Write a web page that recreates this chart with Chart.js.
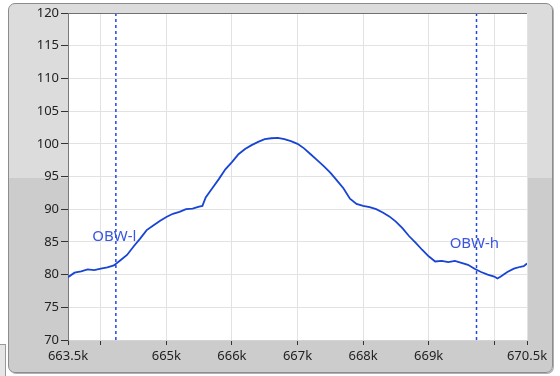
<!DOCTYPE html>
<html>
<head>
<meta charset="utf-8">
<script src="https://cdn.jsdelivr.net/npm/chart.js@4.4.1/dist/chart.umd.min.js"></script>
<style>
  html, body { margin: 0; padding: 0; background: #fff; }
  #wrap { position: relative; width: 560px; height: 376px; overflow: hidden; }
  #frame {
    position: absolute; left: 8px; top: 3px; width: 543px; height: 368px;
    border: 1px solid #8c8c8c; border-radius: 7px;
    box-shadow: 1px 1px 0 #b0b0b0;
    background: linear-gradient(to bottom, #dcdcdc 0, #dcdcdc 174px, #cccccc 174px, #cccccc 100%);
  }
  #tab {
    position: absolute; left: -2px; top: 344px; width: 6px; height: 40px;
    border: 1px solid #9a9a9a; background: #e6e6e6;
  }
  canvas { position: absolute; left: 0; top: 0; }
</style>
</head>
<body>
<div id="wrap">
  <div id="frame"></div>
  <div id="tab"></div>
  <canvas id="chart" width="560" height="376"></canvas>
</div>
<script>
// Spectrum trace (frequency in kHz, level)
const freqs = [
  663.5, 663.6, 663.7, 663.8, 663.9, 664.0, 664.1, 664.2, 664.3, 664.4,
  664.5, 664.6, 664.7, 664.8, 664.9, 665.0, 665.1, 665.2, 665.3, 665.4,
  665.5, 665.55, 665.6, 665.7, 665.8, 665.9, 666.0, 666.1, 666.2, 666.3,
  666.4, 666.5, 666.6, 666.7, 666.8, 666.9, 667.0, 667.1, 667.2, 667.3,
  667.4, 667.5, 667.6, 667.7, 667.8, 667.9, 668.0, 668.1, 668.2, 668.3,
  668.4, 668.5, 668.6, 668.7, 668.8, 668.9, 669.0, 669.1, 669.2, 669.3,
  669.4, 669.5, 669.6, 669.7, 669.8, 669.9, 670.0, 670.05, 670.1, 670.2,
  670.3, 670.4, 670.45, 670.5
];
const levels = [
  79.6, 80.3, 80.5, 80.8, 80.7, 80.9, 81.1, 81.4, 82.2, 83.0,
  84.3, 85.5, 86.8, 87.5, 88.2, 88.8, 89.3, 89.6, 90.0, 90.1,
  90.4, 90.5, 91.8, 93.2, 94.6, 96.1, 97.2, 98.4, 99.2, 99.8,
  100.3, 100.7, 100.85, 100.9, 100.7, 100.4, 100.0, 99.3, 98.4, 97.5,
  96.6, 95.6, 94.4, 93.2, 91.6, 90.8, 90.5, 90.3, 90.0, 89.5,
  88.9, 88.1, 87.1, 85.9, 84.9, 83.8, 82.8, 82.0, 82.1, 81.9,
  82.1, 81.8, 81.5, 80.9, 80.4, 80.0, 79.7, 79.4, 79.7, 80.4,
  80.9, 81.2, 81.3, 81.7
];

// Occupied bandwidth markers
const obwNames = ['OBW-l', 'OBW-h'];
const obwFreqs = [664.23, 669.73];
const obwLabelX = [663.87, 669.32];
const obwLabelY = [85.8, 84.7];

// Axes
const xMin = 663.5, xMax = 670.5;
const xTicks = [663.5, 664, 665, 666, 667, 668, 669, 670, 670.5];
const xHidden = [664, 670];
const yMin = 70, yMax = 120, yStep = 5;

const blue = '#1844d4';

const obwSets = obwFreqs.map(f => ({
  data: [{ x: f, y: yMin }, { x: f, y: yMax }],
  borderColor: '#2348dc',
  borderWidth: 1.5,
  borderDash: [3, 3],
  pointRadius: 0,
  fill: false
}));

const plotDeco = {
  id: 'plotDeco',
  beforeDraw(chart) {
    const { ctx, chartArea: a } = chart;
    ctx.save();
    ctx.fillStyle = '#ffffff';
    ctx.fillRect(a.left, a.top, a.right - a.left, a.bottom - a.top);
    ctx.restore();
  },
  afterDraw(chart) {
    const { ctx, chartArea: a, scales } = chart;
    ctx.save();
    ctx.strokeStyle = '#707070';
    ctx.lineWidth = 1;
    ctx.beginPath();
    ctx.moveTo(a.left, a.top + 0.5);
    ctx.lineTo(a.right, a.top + 0.5);
    ctx.stroke();
    ctx.font = '15px "Noto Sans", sans-serif';
    ctx.fillStyle = '#3a55e0';
    ctx.textBaseline = 'middle';
    ctx.textAlign = 'left';
    obwNames.forEach((n, i) => {
      ctx.fillText(n, scales.x.getPixelForValue(obwLabelX[i]), scales.y.getPixelForValue(obwLabelY[i]));
    });
    ctx.restore();
  }
};

new Chart(document.getElementById('chart'), {
  type: 'line',
  data: {
    datasets: [{
      data: freqs.map((f, i) => ({ x: f, y: levels[i] })),
      borderColor: blue,
      borderWidth: 1.8,
      pointRadius: 0,
      tension: 0,
      fill: false
    }, ...obwSets]
  },
  options: {
    responsive: false,
    devicePixelRatio: 1,
    animation: false,
    layout: { padding: { left: 0, right: 33, top: 13, bottom: 0 } },
    plugins: { legend: { display: false }, tooltip: { enabled: false } },
    scales: {
      x: {
        type: 'linear',
        min: xMin,
        max: xMax,
        afterBuildTicks: s => { s.ticks = xTicks.map(v => ({ value: v })); },
        afterFit: s => { s.height = 36; },
        grid: { color: '#e2e2e2', tickColor: '#333', tickLength: 5, lineWidth: 1 },
        border: { color: '#d4d4d4' },
        ticks: {
          padding: 3,
          color: '#222',
          font: { family: 'Noto Sans', size: 13 },
          maxRotation: 0,
          autoSkip: false,
          callback: v => xHidden.includes(v) ? '' : v + 'k'
        }
      },
      y: {
        min: yMin,
        max: yMax,
        afterFit: s => { s.width = 68; },
        grid: { color: '#e2e2e2', tickColor: '#333', tickLength: 7 },
        border: { color: '#7a7a7a' },
        ticks: {
          stepSize: yStep,
          padding: 2,
          color: '#222',
          font: { family: 'Noto Sans', size: 13 }
        }
      }
    }
  },
  plugins: [plotDeco]
});
</script>
</body>
</html>
